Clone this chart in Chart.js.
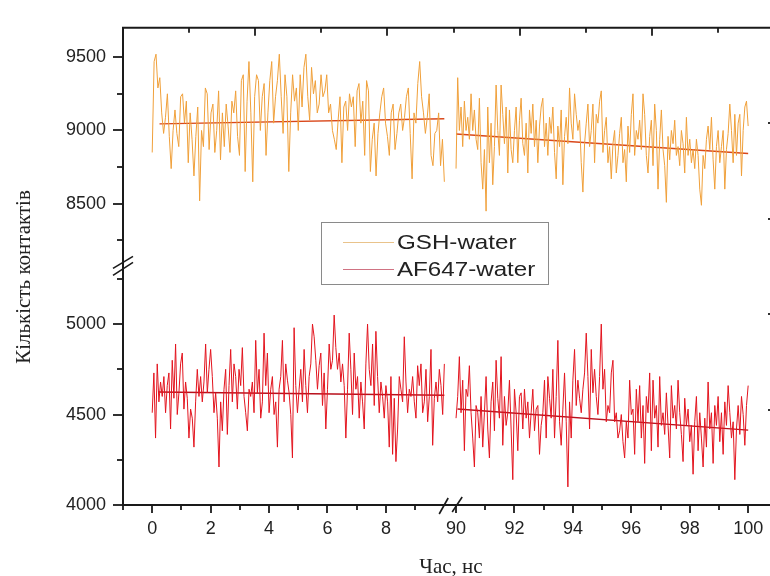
<!DOCTYPE html>
<html><head><meta charset="utf-8">
<script src="https://cdn.jsdelivr.net/npm/chart.js@4.4.0/dist/chart.umd.min.js"></script>
<style>
html,body{margin:0;padding:0;overflow:hidden;background:#fff;width:770px;height:576px}
#wrap{position:absolute;left:0;top:0;width:790px;height:576px}
</style>
</head><body><div id="wrap"><canvas id="c" width="790" height="576"></canvas></div>
<script>
// ---- Data ----
// Time segments (ns); samples are evenly spaced inside each segment
const segment1 = [0, 10];
const segment2 = [90, 100];

const gshWater1 = [8850,9470,9520,9290,9360,9120,8980,9090,9250,8960,
8740,9000,9140,8980,8890,9230,9250,9050,9200,8780,
9120,8940,8690,8960,9160,8520,9000,8890,9290,9250,
8870,9120,9180,8850,9000,9270,8800,9120,8890,9180,
9030,8850,9200,9120,9270,8960,8830,9340,9380,8720,
9200,9470,9120,8650,9230,9380,9340,9000,9230,9320,
8830,9120,9340,9470,9050,9230,9340,9520,9230,8980,
9380,9230,8720,9120,9380,9200,9290,9000,9380,9160,
9430,9520,9230,9070,9430,9250,9340,9120,9180,9380,
9230,9270,9380,9120,9180,9000,8940,8870,9070,9230,
8780,9160,9200,9000,9250,9160,9230,8890,9270,9320,
9050,9200,8830,9340,9270,8720,8940,9050,8690,8980,
9120,9230,9290,9050,8960,8830,9120,9180,8870,8980,
9120,9180,9000,9090,9230,9290,8980,8670,9120,9050,
9320,9470,9230,9120,8980,9090,9250,8830,8760,8980,
9000,9120,8760,8940,8650];

const gshWater2 = [8740,9360,9000,9160,8890,9200,9000,9090,8940,9250,
9000,9140,8940,8870,9220,8780,8600,8870,8450,9160,
8780,9050,8630,8890,9310,9000,8830,9310,9110,8910,
9160,8710,9140,8870,8780,9000,9160,8780,9070,9220,
8910,8830,9050,8710,9140,8980,9180,8890,9070,8780,
9030,9160,9220,8890,9050,8830,9090,8980,9160,8850,
8670,9030,8890,9140,8630,8960,9090,8910,9290,9050,
8940,9250,9110,9000,9070,8780,8580,8910,9050,9180,
8890,9000,9180,8780,9110,9050,9200,9270,8850,9000,
9090,8780,8890,8670,8910,9000,8710,8830,8980,9090,
8780,8870,8650,9030,8850,9110,9250,8830,9000,8940,
9070,8870,9250,9110,8830,8710,8960,9070,8760,9180,
9000,8600,8940,9140,8870,8760,8510,8960,8800,9000,
8910,9070,8830,8890,8760,9000,8910,8710,9090,8830,
8940,8780,8870,8740,8940,8830,8600,8490,8830,8740,
8940,9030,8870,9090,8800,8600,8890,9000,8780,8890,
9000,8600,8870,8980,9180,9000,8780,9110,8830,9050,
9110,8690,9000,9160,9200,9030];

const af647Water1 = [4510,4730,4370,4780,4570,4680,4600,4710,4510,4660,
4730,4420,4800,4590,4890,4500,4620,4780,4840,4530,
4680,4590,4370,4530,4480,4320,4570,4750,4600,4710,
4570,4680,4890,4620,4750,4860,4710,4510,4620,4480,
4210,4570,4410,4640,4750,4390,4660,4860,4570,4780,
4710,4530,4750,4660,4870,4600,4510,4410,4640,4600,
4680,4510,4910,4620,4750,4480,4570,4950,4660,4840,
4510,4640,4710,4500,4570,4320,4640,4710,4910,4570,
4780,4690,4620,4500,4260,4980,4660,4510,4640,4750,
4570,4860,4660,4510,4710,4780,5000,4930,4800,4640,
4770,4840,4550,4730,4420,4640,4890,4750,4800,5050,
4870,4750,4840,4680,4780,4660,4370,4640,4950,4750,
4500,4840,4640,4710,4480,4680,4570,4420,4780,5000,
4750,4660,4890,4550,4960,4710,4510,4680,4600,4480,
4660,4570,4320,4710,4280,4590,4240,4420,4710,4640,
4570,4930,4680,4510,4640,4600,4710,4570,4480,4770,
4660,4780,4510,4570,4750,4460,4600,4860,4330,4590,
4680,4570,4750,4660,4500,4780];

const af647Water2 = [4480,4600,4820,4510,4690,4300,4640,4600,4770,4510,
4370,4210,4550,4510,4370,4600,4320,4510,4710,4420,
4260,4570,4680,4410,4800,4590,4480,4820,4330,4600,
4440,4510,4690,4420,4140,4640,4510,4300,4600,4620,
4420,4640,4480,4570,4370,4510,4640,4410,4530,4550,
4280,4440,4510,4690,4370,4710,4590,4480,4750,4370,
4600,4910,4460,4330,4530,4730,4460,4100,4570,4370,
4690,4860,4550,4690,4590,4510,4640,4730,4950,4710,
4420,4860,4620,4750,4600,4500,4710,5000,4640,4750,
4460,4550,4510,4730,4800,4460,4510,4370,4410,4500,
4350,4260,4460,4370,4690,4500,4530,4280,4640,4460,
4660,4370,4550,4230,4600,4510,4730,4300,4690,4480,
4550,4320,4710,4440,4510,4390,4620,4440,4260,4660,
4480,4550,4420,4690,4510,4390,4240,4590,4440,4530,
4350,4440,4170,4460,4600,4300,4510,4370,4210,4480,
4320,4680,4420,4510,4230,4550,4440,4600,4350,4510,
4280,4570,4440,4660,4510,4370,4460,4140,4420,4550,
4390,4600,4500,4330,4550,4660];

// Linear fits: [time start, value start, time end, value end]
const gshFit1 = [0.25, 9045, 10, 9080];
const gshFit2 = [90, 8976, 100, 8843];
const afFit1 = [0.2, 4625, 10, 4607];
const afFit2 = [90.05, 4531, 100, 4414];

// Axis ticks
const xMajorTicks = [0, 2, 4, 6, 8, 90, 92, 94, 96, 98, 100];
const xMinorTicks = [-1, 1, 3, 5, 7, 9, 91, 93, 95, 97, 99];
const yTopMajor = [8500, 9000, 9500];
const yTopMinor = [8250, 8750, 9250];
const yBotMajor = [4000, 4500, 5000];
const yBotMinor = [4250, 4750, 5250];

const labels = ['GSH-water', 'AF647-water'];
const xTitle = 'Час, нс';
const yTitle = 'Кількість контактів';

// ---- Broken x axis: time 90.. is drawn right after 10 with a small gap ----
const X_GAP_SHIFT = 79.6;
const toAxis = t => (t >= 50 ? t - X_GAP_SHIFT : t);
const fromAxis = u => (u >= 10.2 ? u + X_GAP_SHIFT : u);

function seriesPoints(vals, seg) {
  const n = vals.length, dt = (seg[1] - seg[0]) / (n - 1);
  return vals.map((v, i) => ({ x: toAxis(seg[0] + i * dt), y: v }));
}
function fitPoints(f) {
  return [{ x: toAxis(f[0]), y: f[1] }, { x: toAxis(f[2]), y: f[3] }];
}

const GSH_COLOR = '#f0a03a';
const AF_COLOR = '#e3141e';
const GSH_FIT = '#d9471a';
const AF_FIT = '#b8101c';

const tickFont = { family: '"Liberation Sans", Arial, sans-serif', size: 18 };
const TXT = '#222';

const decor = {
  id: 'decor',
  afterDraw(chart) {
    const ctx = chart.ctx;
    const { left, right, top, bottom } = chart.chartArea;
    const xs = chart.scales.x, yt = chart.scales.yTop, yb = chart.scales.yBot;
    const x2 = chart.scales.x2, yr = chart.scales.yR;
    ctx.save();
    ctx.strokeStyle = '#1a1a1a';
    ctx.lineCap = 'butt';
    const line = (a, b, c, d) => { ctx.beginPath(); ctx.moveTo(a, b); ctx.lineTo(c, d); ctx.stroke(); };
    // frame
    ctx.lineWidth = 2;
    line(left - 1, top, right + 1, top);
    line(left, top, left, bottom + 1);
    line(left - 1, bottom, right + 1, bottom);
    line(right, top, right, bottom);
    // y ticks (outward)
    ctx.lineWidth = 1.8;
    yTopMajor.forEach(v => { const p = Math.round(yt.getPixelForValue(v)); line(left - 10, p, left, p); });
    yTopMinor.forEach(v => { const p = Math.round(yt.getPixelForValue(v)); line(left - 6, p, left, p); });
    yBotMajor.forEach(v => { const p = Math.round(yb.getPixelForValue(v)); line(left - 10, p, left, p); });
    yBotMinor.forEach(v => { const p = Math.round(yb.getPixelForValue(v)); line(left - 6, p, left, p); });
    // x ticks (outward)
    xMajorTicks.forEach(t => { const p = Math.round(xs.getPixelForValue(toAxis(t))); line(p, bottom, p, bottom + 8); });
    xMinorTicks.forEach(t => { const p = Math.round(xs.getPixelForValue(toAxis(t))); line(p, bottom, p, bottom + 5); });
    // top axis ticks (inward)
    for (let k = 1; k <= 9; k++) { const p = Math.round(x2.getPixelForValue(k)); line(p, top, p, top + (k % 2 === 0 ? 8 : 5)); }
    // right axis ticks (inward)
    for (let k = 1; k <= 4; k++) { const p = Math.round(yr.getPixelForValue(k)); line(right - 5, p, right, p); }
    // y break marks
    const bY = yt.bottom;
    ctx.lineWidth = 1.6;
    line(left - 10, bY + 8, left + 10, bY - 5);
    line(left - 10, bY + 1, left + 10, bY - 11);
    // x break marks
    const bX = xs.getPixelForValue(10.2);
    line(bX - 11, bottom + 9, bX - 2, bottom - 7);
    line(bX + 2, bottom + 7, bX + 12, bottom - 8);
    // axis titles
    ctx.fillStyle = TXT;
    ctx.font = '21px "Liberation Serif", "Times New Roman", serif';
    ctx.textAlign = 'center';
    ctx.textBaseline = 'middle';
    ctx.fillText(xTitle, 451, 567);
    ctx.save();
    ctx.translate(24, 277);
    ctx.rotate(-Math.PI / 2);
    ctx.fillText(yTitle, 0, 0);
    ctx.restore();
    // legend
    ctx.lineWidth = 1;
    ctx.strokeStyle = '#8a8a8a';
    ctx.strokeRect(321.5, 222.5, 227, 62);
    const items = [[labels[0], 'rgba(228,180,110,0.8)', 242], [labels[1], 'rgba(196,80,100,0.8)', 269]];
    items.forEach(([txt, col, y]) => {
      ctx.strokeStyle = col; ctx.lineWidth = 1.2;
      line(343, y + 0.5, 394, y + 0.5);
      ctx.save();
      ctx.translate(397, y + 1);
      ctx.scale(1.15, 1);
      ctx.fillStyle = TXT;
      ctx.font = '21px "Liberation Sans", Arial, sans-serif';
      ctx.textAlign = 'left';
      ctx.textBaseline = 'middle';
      ctx.fillText(txt, 0, 0);
      ctx.restore();
    });
    ctx.restore();
  }
};

const ds = (label, data, color, axis, w) => ({
  label, data, borderColor: color, borderWidth: w, yAxisID: axis, xAxisID: 'x',
  pointRadius: 0, tension: 0, fill: false
});

new Chart(document.getElementById('c'), {
  type: 'line',
  data: {
    datasets: [
      ds(labels[0], seriesPoints(gshWater1, segment1), GSH_COLOR, 'yTop', 1),
      ds(labels[0], seriesPoints(gshWater2, segment2), GSH_COLOR, 'yTop', 1),
      ds(labels[1], seriesPoints(af647Water1, segment1), AF_COLOR, 'yBot', 1),
      ds(labels[1], seriesPoints(af647Water2, segment2), AF_COLOR, 'yBot', 1),
      ds('fit', fitPoints(gshFit1), GSH_FIT, 'yTop', 1.4),
      ds('fit', fitPoints(gshFit2), GSH_FIT, 'yTop', 1.4),
      ds('fit', fitPoints(afFit1), AF_FIT, 'yBot', 1.4),
      ds('fit', fitPoints(afFit2), AF_FIT, 'yBot', 1.4)
    ]
  },
  options: {
    responsive: false,
    animation: false,
    layout: { padding: { top: 17, right: 17, left: 0, bottom: 0 } },
    plugins: { legend: { display: false }, tooltip: { enabled: false } },
    scales: {
      x: {
        type: 'linear', position: 'bottom', min: -1, max: 21.25,
        grid: { display: false, drawTicks: false }, border: { display: false },
        afterBuildTicks: s => { s.ticks = xMajorTicks.map(t => ({ value: toAxis(t) })); },
        ticks: { font: tickFont, color: TXT, padding: 13, maxRotation: 0, autoSkip: false,
          callback: v => String(Math.round(fromAxis(v))) },
        afterFit: s => { s.height = 71; }
      },
      yBot: {
        type: 'linear', position: 'left', stack: 'left', stackWeight: 243,
        min: 4000, max: 5313.5,
        grid: { display: false, drawTicks: false }, border: { display: false },
        afterBuildTicks: s => { s.ticks = yBotMajor.map(v => ({ value: v })); },
        ticks: { font: tickFont, color: TXT, padding: 17, autoSkip: false, callback: v => String(v) },
        afterFit: s => { s.width = 123; }
      },
      yTop: {
        type: 'linear', position: 'left', stack: 'left', stackWeight: 245,
        min: 8066.7, max: 9700,
        grid: { display: false, drawTicks: false }, border: { display: false },
        afterBuildTicks: s => { s.ticks = yTopMajor.map(v => ({ value: v })); },
        ticks: { font: tickFont, color: TXT, padding: 17, autoSkip: false, callback: v => String(v) },
        afterFit: s => { s.width = 123; }
      },
      x2: { type: 'linear', position: 'top', display: false, min: 0, max: 9.83 },
      yR: { type: 'linear', position: 'right', display: false, min: 0, max: 5 }
    }
  },
  plugins: [decor]
});
</script>
</body></html>
